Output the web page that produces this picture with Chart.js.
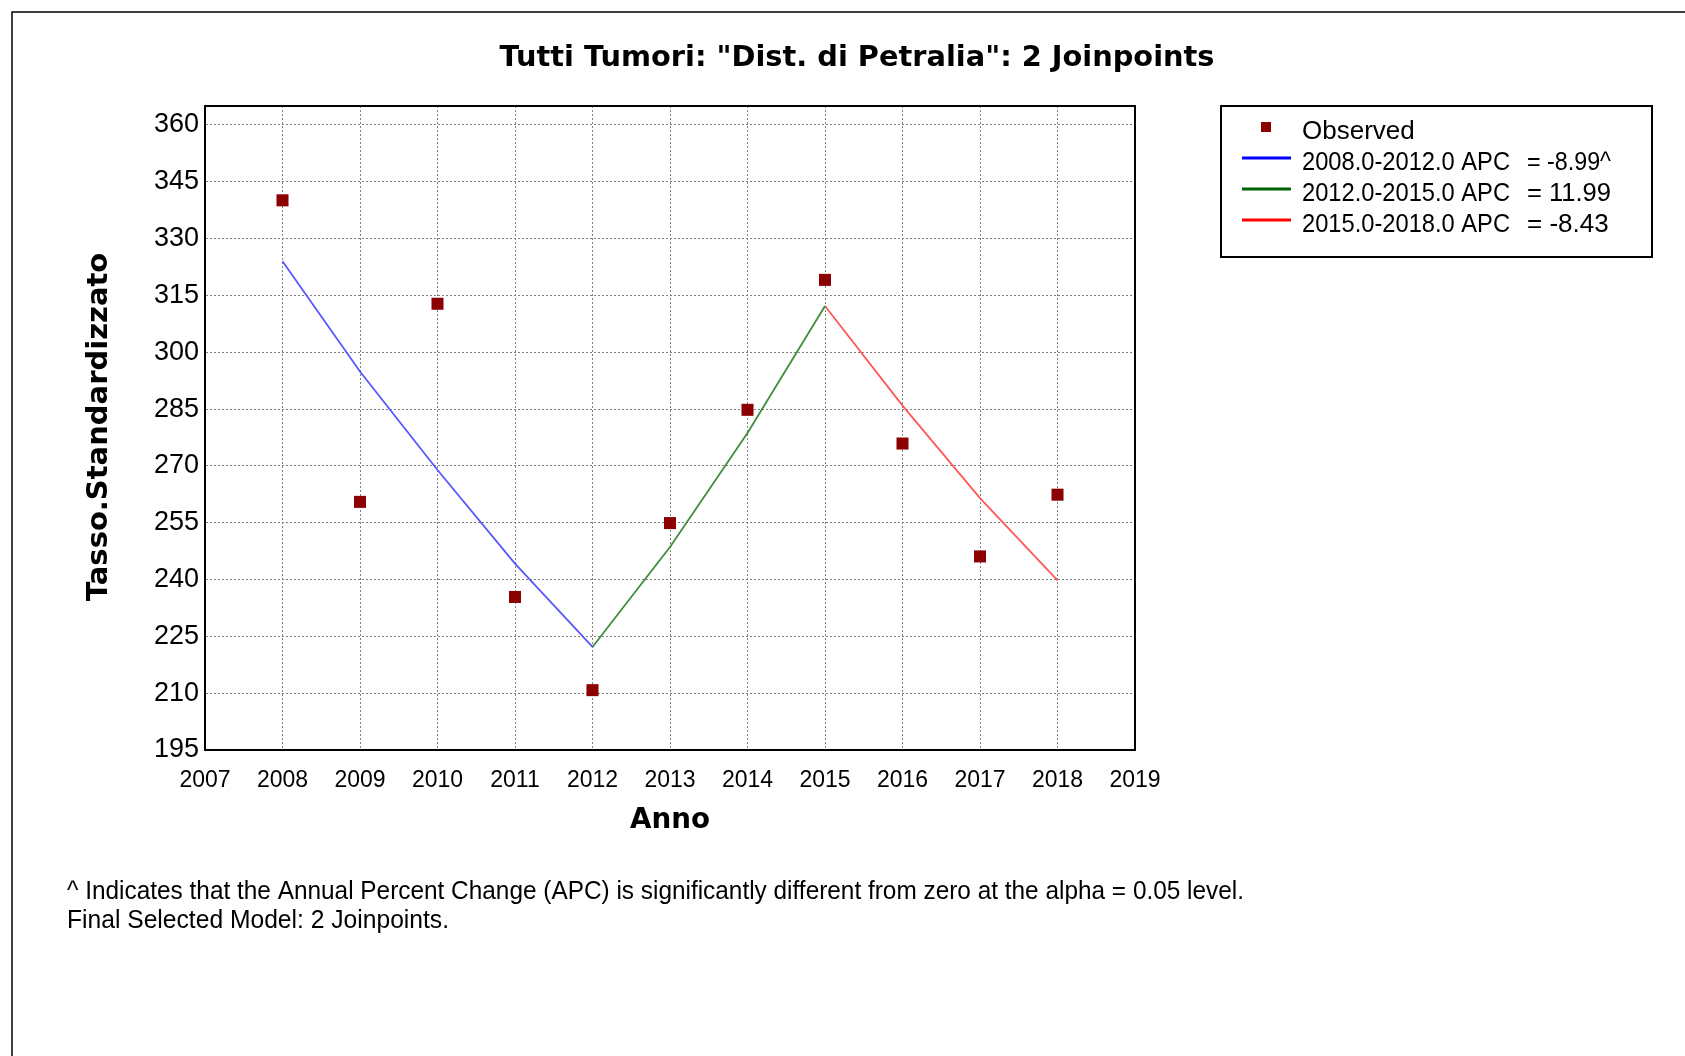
<!DOCTYPE html>
<html>
<head>
<meta charset="utf-8">
<script src="https://cdn.jsdelivr.net/npm/chart.js@4.4.0/dist/chart.umd.min.js"></script>
<style>
  html, body { margin: 0; padding: 0; background: #fff; }
  #wrap { position: relative; width: 1685px; height: 1056px; }
</style>
</head>
<body>
<div id="wrap"><canvas id="myChart" width="1685" height="1056"></canvas></div>
<script>
// observed rates
var years = [2008, 2009, 2010, 2011, 2012, 2013, 2014, 2015, 2016, 2017, 2018];
var observed = [340.1, 260.5, 312.8, 235.4, 210.8, 254.9, 284.8, 319.1, 275.9, 246.1, 262.4];

// joinpoint segments (fitted values)
var seg1Years = [2008, 2009, 2010, 2011, 2012];
var seg1Fit = [324.0, 294.9, 268.9, 244.2, 222.2];
var seg2Years = [2012, 2013, 2014, 2015];
var seg2Fit = [222.2, 248.6, 278.7, 312.2];
var seg3Years = [2015, 2016, 2017, 2018];
var seg3Fit = [312.2, 285.9, 261.5, 239.8];

// tick labels
var xTicks = [2007, 2008, 2009, 2010, 2011, 2012, 2013, 2014, 2015, 2016, 2017, 2018, 2019];
var yTicks = [195, 210, 225, 240, 255, 270, 285, 300, 315, 330, 345, 360];

var legendLabels = ['Observed', '2008.0-2012.0 APC', '2012.0-2015.0 APC', '2015.0-2018.0 APC'];
var legendValues = ['', '= -8.99^', '= 11.99', '= -8.43'];
var legendColors = ['#8b0000', '#0000ff', '#006400', '#ff0000'];

function toPoints(xs, ys) {
  return xs.map(function(x, i) { return { x: x, y: ys[i] }; });
}

// draws the frame, title, axis titles, legend box and footnote
var decorations = {
  id: 'decorations',
  afterDraw: function(chart) {
    var c = chart.ctx;
    var a = chart.chartArea;
    c.save();

    // outer frame (only top and left visible)
    c.strokeStyle = '#000';
    c.lineWidth = 1.5;
    c.beginPath();
    c.moveTo(1685, 12);
    c.lineTo(12, 12);
    c.lineTo(12, 1056);
    c.stroke();

    // plot border
    c.lineWidth = 2;
    c.strokeRect(a.left, a.top, a.right - a.left, a.bottom - a.top);

    c.fillStyle = '#000';
    c.textBaseline = 'middle';

    // title
    c.font = 'bold 29px "DejaVu Sans"';
    c.textAlign = 'center';
    c.fillText('Tutti Tumori: "Dist. di Petralia": 2 Joinpoints', 857, 58, 715);

    // x axis title
    c.font = 'bold 28px "DejaVu Sans"';
    c.fillText('Anno', 670, 821, 80);

    // y axis title
    c.save();
    c.font = 'bold 29px "DejaVu Sans"';
    c.translate(99, 427);
    c.rotate(-Math.PI / 2);
    c.fillText('Tasso.Standardizzato', 0, 0, 349);
    c.restore();

    // legend box
    c.lineWidth = 2;
    c.strokeRect(1221, 106, 431, 151);
    c.font = '26px "Liberation Sans"';
    c.textAlign = 'left';
    var rowY = [132, 163, 194, 225];
    for (var i = 0; i < legendLabels.length; i++) {
      var y = rowY[i];
      if (i === 0) {
        c.fillStyle = legendColors[0];
        c.fillRect(1261, y - 10, 10, 10);
      } else {
        c.strokeStyle = legendColors[i];
        c.lineWidth = 3;
        c.beginPath();
        c.moveTo(1242, y - 5);
        c.lineTo(1291, y - 5);
        c.stroke();
      }
      c.fillStyle = '#000';
      c.fillText(legendLabels[i], 1302, y, 208);
      if (legendValues[i]) c.fillText(legendValues[i], 1527, y, 84);
    }

    // footnote
    c.font = '25px "Liberation Sans"';
    c.fillText('^ Indicates that the Annual Percent Change (APC) is significantly different from zero at the alpha = 0.05 level.', 67, 892, 1177);
    c.fillText('Final Selected Model: 2 Joinpoints.', 67, 921, 382);

    c.restore();
  }
};

var ctx = document.getElementById('myChart');

var myChart = new Chart(ctx, {
  type: 'scatter',
  data: {
    datasets: [
      {
        label: 'Observed',
        data: toPoints(years, observed),
        pointStyle: 'rect',
        pointRadius: 8.5,
        pointBackgroundColor: '#8b0000',
        pointBorderColor: '#8b0000',
        pointBorderWidth: 0,
        showLine: false,
        order: 0
      },
      {
        label: legendLabels[1],
        type: 'line',
        data: toPoints(seg1Years, seg1Fit),
        borderColor: 'rgba(70, 70, 255, 0.9)',
        borderWidth: 1.8,
        pointRadius: 0,
        tension: 0,
        order: 1
      },
      {
        label: legendLabels[2],
        type: 'line',
        data: toPoints(seg2Years, seg2Fit),
        borderColor: 'rgba(40, 130, 40, 0.9)',
        borderWidth: 1.8,
        pointRadius: 0,
        tension: 0,
        order: 1
      },
      {
        label: legendLabels[3],
        type: 'line',
        data: toPoints(seg3Years, seg3Fit),
        borderColor: 'rgba(255, 70, 70, 0.9)',
        borderWidth: 1.8,
        pointRadius: 0,
        tension: 0,
        order: 1
      }
    ]
  },
  options: {
    responsive: false,
    animation: false,
    devicePixelRatio: 1,
    layout: { padding: { left: 0, top: 106, right: 550, bottom: 0 } },
    plugins: {
      legend: { display: false },
      title: { display: false },
      tooltip: { enabled: false }
    },
    scales: {
      x: {
        type: 'linear',
        min: 2007,
        max: 2019,
        afterBuildTicks: function(scale) {
          scale.ticks = xTicks.map(function(v) { return { value: v }; });
        },
        afterFit: function(scale) { scale.height = 306; },
        grid: { color: '#808080', lineWidth: 1, drawTicks: false },
        border: { display: true, color: '#000', width: 2, dash: [2, 2] },
        ticks: {
          padding: 17,
          color: '#000',
          font: { family: '"Liberation Sans"', size: 23 },
          callback: function(v) { return String(v); }
        }
      },
      y: {
        min: 195,
        max: 365,
        afterBuildTicks: function(scale) {
          scale.ticks = yTicks.map(function(v) { return { value: v }; });
        },
        afterFit: function(scale) { scale.width = 205; },
        grid: { color: '#808080', lineWidth: 1, drawTicks: false },
        border: { display: true, color: '#000', width: 2, dash: [2, 2] },
        ticks: {
          padding: 6,
          color: '#000',
          font: { family: '"Liberation Sans"', size: 27 },
          callback: function(v) { return String(v); }
        }
      }
    }
  },
  plugins: [decorations]
});
</script>
</body>
</html>
